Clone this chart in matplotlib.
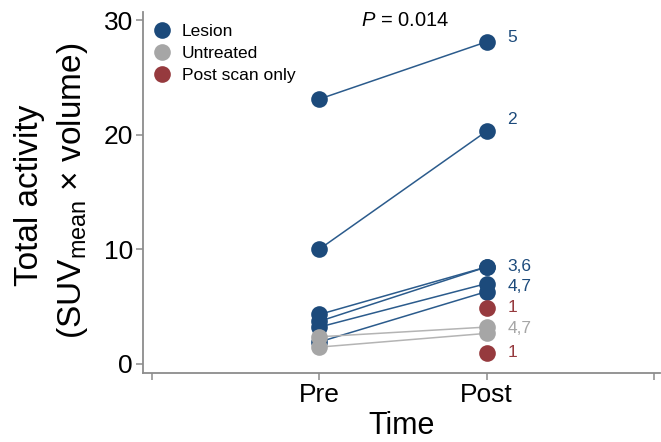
import matplotlib
matplotlib.use('Agg')
import matplotlib.pyplot as plt
from matplotlib.lines import Line2D

# SETUP #########################################

plt.rcParams.update({
    'font.family': ['Liberation Sans', 'DejaVu Sans'],
    'mathtext.fontset': 'custom',
    'mathtext.rm': 'Liberation Sans',
    'mathtext.it': 'Liberation Sans:italic',
    'axes.edgecolor': '#8c8c8c',
})

# DATA ##########################################

time_labels = ['Pre', 'Post']

lesion_ids = ['5', '2', '3', '6', '4', '7']
lesion_pre = [23.1, 10.0, 4.3, 3.7, 3.2, 1.9]
lesion_post = [28.1, 20.3, 8.45, 8.45, 7.0, 6.3]

untreated_ids = ['4', '7']
untreated_pre = [2.35, 1.45]
untreated_post = [3.2, 2.65]

post_only_ids = ['1', '1']
post_only_post = [4.85, 0.9]

p_value = 0.014

# label text / y placement beside the Post column
label_text = ['5', '2', '3,6', '4,7', '1', '4,7', '1']
label_y = [28.5, 21.3, 8.5, 6.7, 4.95, 3.1, 0.95]
label_group = ['lesion', 'lesion', 'lesion', 'lesion', 'post', 'untreated', 'post']

# COLOURS #######################################

c_lesion = '#1c4a7b'
c_lesion_line = '#2b5b8c'
c_untreated = '#a6a6a6'
c_untreated_line = '#b4b4b4'
c_post = '#963a3e'
colors = {'lesion': c_lesion, 'untreated': c_untreated, 'post': c_post}

# FIGURE ########################################

fig = plt.figure(figsize=(6.61, 4.42), dpi=100)
W, H = 661, 442
ax = fig.add_axes([142.7 / W, 1 - 373 / H, (660 - 142.7) / W, (373 - 12) / H])

x_pre, x_post = 1, 2
ms = 12

for pre, post in zip(lesion_pre, lesion_post):
    ax.plot([x_pre, x_post], [pre, post], color=c_lesion_line, lw=1.1, zorder=2)
ax.plot([x_pre] * len(lesion_pre), lesion_pre, 'o', color=c_lesion, ms=ms, mew=0, zorder=3)
ax.plot([x_post] * len(lesion_post), lesion_post, 'o', color=c_lesion, ms=ms, mew=0, zorder=3)

for pre, post in zip(untreated_pre, untreated_post):
    ax.plot([x_pre, x_post], [pre, post], color=c_untreated_line, lw=1.1, zorder=4)
ax.plot([x_pre] * len(untreated_pre), untreated_pre, 'o', color=c_untreated, ms=ms, mew=0, zorder=5)
ax.plot([x_post] * len(untreated_post), untreated_post, 'o', color=c_untreated, ms=ms, mew=0, zorder=5)

ax.plot([x_post] * len(post_only_post), post_only_post, 'o', color=c_post, ms=ms, mew=0, zorder=5)

for txt, y, g in zip(label_text, label_y, label_group):
    ax.text(x_post + 0.125, y, txt, color=colors[g], fontsize=12.5,
            ha='left', va='center')

ax.text(1.51, 30.0, '$P$ = ' + str(p_value), fontsize=14.5, ha='center', va='center')

# AXES ##########################################

ax.set_xlim(-0.056, 3.036)
ax.set_ylim(-0.81, 30.7)
ax.set_xticks([0, 1, 2, 3])
ax.set_xticklabels(['', time_labels[0], time_labels[1], ''])
ax.set_yticks([0, 10, 20, 30])
ax.spines['top'].set_visible(False)
ax.spines['right'].set_visible(False)
for s in ['left', 'bottom']:
    ax.spines[s].set_linewidth(1.3)
ax.tick_params(axis='both', colors='#8c8c8c', labelcolor='black',
               length=5, width=1.1, labelsize=19, pad=2)

ax.set_xlabel('Time', fontsize=22, labelpad=3)

fig.text(30 / W, 1 - 195 / H, 'Total activity', rotation=90,
         fontsize=24, ha='center', va='center')
fig.text(73 / W, 1 - 191 / H, r'(SUV$_{\mathrm{mean}}$ × volume)', rotation=90,
         fontsize=24, ha='center', va='center')

# LEGEND ########################################

handles = [
    Line2D([], [], marker='o', ls='none', color=c_lesion, ms=ms, mew=0),
    Line2D([], [], marker='o', ls='none', color=c_untreated, ms=ms, mew=0),
    Line2D([], [], marker='o', ls='none', color=c_post, ms=ms, mew=0),
]
ax.legend(handles, ['Lesion', 'Untreated', 'Post scan only'],
          loc='upper left', bbox_to_anchor=(0.0205, 0.967), frameon=False,
          fontsize=12.5, handlelength=1.0, handletextpad=0.65,
          borderpad=0, borderaxespad=0, labelspacing=0.4)

plt.savefig('out.png', dpi=100)
